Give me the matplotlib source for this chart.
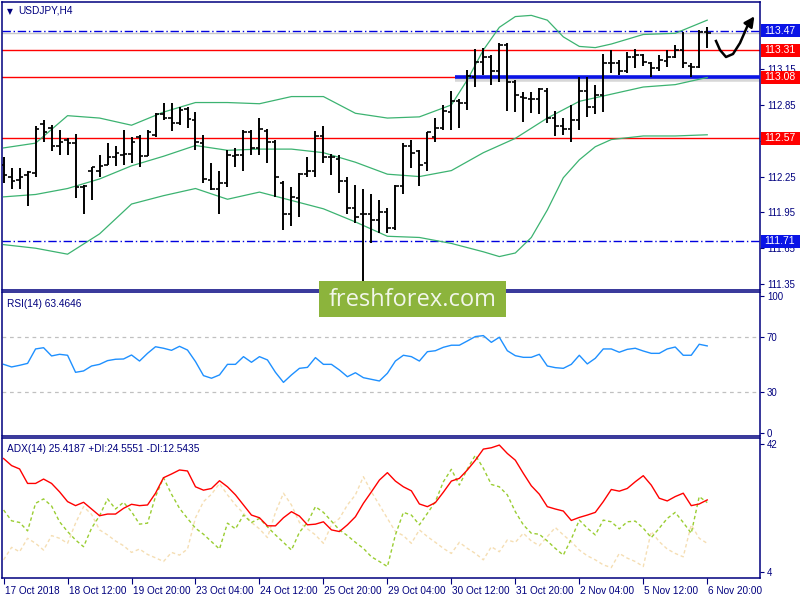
import matplotlib
matplotlib.use("Agg")
import matplotlib.pyplot as plt
import matplotlib.transforms as mtransforms
from matplotlib.patches import Rectangle, FancyArrowPatch
from matplotlib.lines import Line2D
import numpy as np

# ---------------- data ----------------
opens = [112.35,112.25,112.22,112.26,112.28,112.69,112.66,112.51,112.56,112.53,
         112.16,112.30,112.30,112.35,112.41,112.43,112.44,112.58,112.42,112.60,
         112.77,112.74,112.70,112.82,112.72,112.53,112.22,112.15,112.20,112.42,
         112.43,112.62,112.49,112.63,112.54,112.20,111.94,112.07,112.27,112.30,
         112.59,112.41,112.40,112.21,111.99,111.94,111.94,111.89,111.95,111.82,
         112.17,112.51,112.46,112.36,112.58,112.66,112.79,112.88,112.87,113.08,
         113.21,113.25,113.13,113.35,113.04,112.92,112.90,112.90,112.97,112.74,
         112.67,112.65,112.72,112.97,112.83,112.93,113.20,113.20,113.13,113.25,
         113.27,113.20,113.16,113.22,113.25,113.31,113.18,113.17,113.46]
highs = [112.41,112.32,112.32,112.30,112.67,112.72,112.68,112.64,112.57,112.61,
         112.18,112.33,112.43,112.53,112.51,112.64,112.58,112.60,112.64,112.78,
         112.87,112.87,112.83,112.83,112.79,112.60,112.36,112.30,112.47,112.49,
         112.64,112.64,112.74,112.65,112.56,112.21,112.16,112.28,112.41,112.63,
         112.67,112.44,112.43,112.25,112.18,112.15,112.10,112.05,111.99,112.18,
         112.53,112.56,112.47,112.62,112.74,112.85,112.97,112.90,113.14,113.32,
         113.33,113.27,113.37,113.37,113.06,112.96,112.96,112.99,112.99,112.80,
         112.74,112.85,113.08,113.08,113.02,113.28,113.31,113.23,113.29,113.32,
         113.28,113.21,113.27,113.31,113.35,113.46,113.20,113.48,113.50]
lows = [112.20,112.15,112.15,112.00,112.25,112.54,112.46,112.43,112.43,112.07,
        111.94,112.05,112.25,112.35,112.34,112.35,112.36,112.33,112.42,112.58,
        112.72,112.63,112.68,112.66,112.47,112.20,112.14,111.94,112.16,112.33,
        112.30,112.43,112.43,112.36,112.08,111.80,111.84,111.91,112.25,112.25,
        112.36,112.26,112.11,111.94,111.86,111.37,111.69,111.78,111.78,111.80,
        112.10,112.32,112.17,112.30,112.54,112.64,112.64,112.66,112.81,113.00,
        113.10,113.02,113.04,112.80,112.79,112.71,112.78,112.77,112.70,112.59,
        112.60,112.54,112.64,112.75,112.77,112.79,113.12,113.10,113.12,113.16,
        113.18,113.08,113.13,113.17,113.24,113.16,113.08,113.16,113.33]
closes = [112.26,112.21,112.25,112.29,112.65,112.62,112.51,112.54,112.53,112.16,
          112.17,112.33,112.34,112.41,112.45,112.44,112.54,112.42,112.62,112.77,
          112.74,112.70,112.81,112.73,112.54,112.23,112.15,112.20,112.43,112.43,
          112.62,112.49,112.65,112.54,112.25,111.94,112.08,112.27,112.30,112.59,
          112.41,112.41,112.21,111.99,111.91,111.94,111.89,111.95,111.82,112.17,
          112.51,112.45,112.35,112.62,112.66,112.80,112.88,112.87,113.09,113.21,
          113.25,113.13,113.35,113.04,112.93,112.91,112.90,112.98,112.74,112.67,
          112.65,112.72,112.97,112.83,112.93,113.20,113.20,113.13,113.25,113.27,
          113.21,113.16,113.23,113.25,113.31,113.20,113.17,113.46,113.45]

bb_upper_idx = [0,4,8,12,16,20,24,28,32,36,40,44,48,52,56,58,60,62,64,66,68,70,72,74,76,80,84,88]
bb_upper = [112.49,112.53,112.76,112.74,112.68,112.79,112.87,112.87,112.86,112.92,112.92,112.78,
            112.74,112.75,112.85,113.06,113.31,113.50,113.59,113.60,113.56,113.42,113.34,113.33,
            113.36,113.44,113.45,113.56]
bb_mid_idx = [0,4,8,12,16,20,24,28,32,36,40,44,48,52,56,60,64,68,72,76,80,84,88]
bb_mid = [112.08,112.10,112.15,112.23,112.34,112.42,112.51,112.47,112.48,112.48,112.45,112.37,
          112.27,112.25,112.30,112.45,112.57,112.74,112.88,112.94,113.00,113.02,113.08]
bb_lower_idx = [0,4,8,12,16,20,24,28,32,36,40,44,48,52,56,60,62,64,66,68,70,72,74,76,80,84,88]
bb_lower = [111.68,111.65,111.60,111.77,112.02,112.09,112.15,112.06,112.12,112.05,111.98,111.87,
            111.75,111.74,111.69,111.62,111.58,111.61,111.74,111.97,112.24,112.39,112.50,112.56,
            112.59,112.59,112.60]

rsi = [50.1,48.2,49.4,50.8,61.3,62.2,56.2,57.4,56.7,44.3,
       45.3,48.9,50.1,52.8,53.8,54.0,56.9,52.5,58.1,62.9,
       61.8,60.3,63.2,60.5,52.1,41.9,40.0,42.4,50.1,50.1,
       55.7,51.6,55.7,53.3,44.3,37.0,42.4,47.2,47.9,55.0,
       50.1,50.1,46.0,41.1,44.0,40.4,39.2,38.0,43.6,52.5,
       56.7,55.7,52.5,59.3,60.0,62.5,64.0,64.0,67.1,70.3,
       71.0,66.1,69.8,60.0,56.4,55.2,55.2,57.4,48.9,47.7,
       47.2,50.1,56.7,50.4,54.5,61.3,61.3,58.9,61.0,61.8,
       59.8,58.1,58.1,61.3,62.7,56.7,56.7,64.7,63.5]

adx = [37.7,35.6,34.6,30.3,30.3,31.6,30.3,27.8,24.9,23.7,
       24.7,22.7,20.7,21.2,21.2,22.9,24.1,23.7,23.9,27.4,
       32.0,33.1,34.3,34.0,29.3,28.3,28.8,31.1,29.3,26.9,
       23.9,20.9,20.1,17.7,17.7,20.1,21.9,20.6,18.0,18.2,
       18.9,16.5,16.0,18.0,20.4,24.4,27.8,31.3,33.5,31.0,
       29.3,28.1,24.2,23.4,24.6,27.7,31.0,31.8,34.3,37.2,
       40.5,40.9,41.7,39.2,37.2,33.3,29.6,27.1,23.4,22.7,
       22.1,19.3,20.2,20.9,21.7,24.9,28.5,28.0,28.8,30.8,
       32.6,29.8,25.9,25.1,26.4,27.4,23.7,24.2,25.4]
plus_di = [22.4,19.2,18.7,16.2,24.4,25.7,23.6,18.9,16.0,13.5,
           11.5,17.0,20.7,25.7,22.7,24.7,21.9,18.2,18.5,26.4,
           32.0,27.1,22.9,19.9,17.0,15.2,13.0,10.8,18.5,16.8,
           20.9,18.7,19.9,17.4,15.0,12.8,10.5,15.8,18.7,23.4,
           21.7,19.1,16.5,14.8,12.8,11.0,8.5,7.1,5.6,15.0,
           21.7,20.9,18.0,21.4,24.9,30.8,34.5,29.8,34.6,38.7,
           34.8,30.0,29.3,26.9,21.9,18.0,15.5,15.2,13.2,11.0,
           9.0,13.8,19.4,17.0,15.0,19.4,18.9,16.8,18.9,19.1,
           17.0,14.2,17.0,19.9,21.7,18.7,15.5,26.4,24.6]
minus_di = [7.6,11.3,10.0,14.0,12.5,10.5,14.8,14.0,12.5,18.5,
            23.4,21.1,16.5,15.0,13.2,11.8,9.8,10.8,9.2,8.2,
            7.1,9.8,9.0,10.8,20.1,24.9,27.1,30.3,26.9,23.9,
            21.4,18.7,16.8,14.2,21.7,27.4,23.9,18.7,16.8,15.0,
            12.5,18.0,19.9,23.9,26.9,32.3,27.8,23.9,19.9,16.0,
            14.8,12.5,16.5,14.5,12.8,11.0,9.5,12.8,11.0,9.5,
            7.6,11.5,10.0,13.5,12.8,15.5,13.2,11.8,14.5,17.2,
            15.0,13.0,10.5,8.8,7.6,6.1,5.3,9.5,8.1,7.1,
            5.6,16.0,13.0,10.8,9.5,8.5,18.0,14.0,12.5]

tick_labels = ["17 Oct 2018", "18 Oct 12:00", "19 Oct 20:00", "23 Oct 04:00",
               "24 Oct 12:00", "25 Oct 20:00", "29 Oct 04:00", "30 Oct 12:00",
               "31 Oct 20:00", "2 Nov 04:00", "5 Nov 12:00", "6 Nov 20:00"]
tick_idx = [0, 8, 16, 24, 32, 40, 48, 56, 64, 72, 80, 88]

red_levels = [113.31, 113.08, 112.57]
blue_levels = [113.47, 111.71]
bid_price = 113.45
support_level = 113.08
support_start = 56.5

price_ticks = [111.35, 111.65, 111.95, 112.25, 112.55, 112.85, 113.15]

# ---------------- styling ----------------
NAVY = "#00007f"
BLUE = "#0000e0"
BOXBLUE = "#0a14e6"
RED = "#ff0000"
GREEN = "#3cb371"
FONT = ["Liberation Sans", "DejaVu Sans"]
FS = 6.9
plt.rcParams["font.family"] = FONT

fig = plt.figure(figsize=(8, 6), dpi=100)
fig.patch.set_facecolor("white")

L, W = 2/800, 758/800
ax = fig.add_axes([L, 1-290/600, W, 288/600])
ax_rsi = fig.add_axes([L, 1-436/600, W, 144/600])
ax_adx = fig.add_axes([L, 1-578/600, W, 140/600])

n = len(closes)
x = np.arange(n)
xlim = (-0.2, 94.6)

for a in (ax, ax_rsi, ax_adx):
    a.set_xlim(*xlim)
    for s in a.spines.values():
        s.set_color(NAVY)
        s.set_linewidth(1.1)
    a.yaxis.tick_right()
    a.tick_params(axis="y", colors=NAVY, labelcolor=NAVY, labelsize=FS,
                  direction="out", length=3, width=0.8, pad=2)
    a.set_facecolor("white")

ax.tick_params(axis="x", bottom=False, labelbottom=False)
ax_rsi.tick_params(axis="x", bottom=False, labelbottom=False)

# ---------- main price panel ----------
ax.set_ylim(111.30, 113.712)
ax.set_yticks(price_ticks)
ax.set_yticklabels([f"{p:.2f}" for p in price_ticks])

ax.axhline(bid_price, color="#c8c8c8", lw=1.0, zorder=1)
for lv in red_levels:
    ax.axhline(lv, color=RED, lw=1.0, zorder=2)
for lv in blue_levels:
    ax.axhline(lv, color=BLUE, lw=1.0, ls=(0, (6, 2, 1, 2)), zorder=2)

# thick support line with soft shadow
ax.plot([support_start, xlim[1]], [support_level - 0.012, support_level - 0.012],
        color="#b0b0b0", lw=4, alpha=0.5, zorder=2, solid_capstyle="butt")
ax.plot([support_start, xlim[1]], [support_level, support_level],
        color=BOXBLUE, lw=2.6, zorder=3, solid_capstyle="butt")

ax.plot(bb_upper_idx, bb_upper, color=GREEN, lw=0.9, zorder=3)
ax.plot(bb_mid_idx, bb_mid, color=GREEN, lw=0.9, zorder=3)
ax.plot(bb_lower_idx, bb_lower, color=GREEN, lw=0.9, zorder=3)

ax.vlines(x, lows, highs, color="black", lw=1.4, zorder=4)
ax.hlines(opens, x - 0.42, x, color="black", lw=1.2, zorder=4)
ax.hlines(closes, x, x + 0.42, color="black", lw=1.2, zorder=4)

ax.text(0.006, 0.982, "\u25BC", transform=ax.transAxes, fontsize=5.5, color=NAVY,
        va="top", ha="left", family=["DejaVu Sans"])
ax.text(0.021, 0.988, "USDJPY,H4", transform=ax.transAxes, fontsize=FS + 0.4, color=NAVY,
        va="top", ha="left")

# price boxes on the right scale
for lv, col in [(113.47, BOXBLUE), (113.31, RED), (113.08, RED), (112.57, RED), (111.71, BOXBLUE)]:
    ypx = ax.transData.transform((0, lv))[1]
    fig.patches.append(Rectangle((761/800, (ypx - 6.5)/600), 39/800, 13/600,
                                 transform=fig.transFigure, fc=col, ec="none", zorder=10))
    fig.text(764/800, ypx/600, f"{lv:.2f}", fontsize=FS + 0.6, color="white",
             ha="left", va="center", zorder=11)

# ---------- RSI panel ----------
ax_rsi.set_ylim(-2.0, 102.7)
ax_rsi.set_yticks([0, 30, 70, 100])
ax_rsi.set_yticklabels(["0", "30", "70", "100"])
for lv in (70, 30):
    ax_rsi.axhline(lv, color="#c0c0c0", lw=0.9, ls=(0, (3, 3)))
ax_rsi.plot(x, rsi, color="#1e90ff", lw=1.0)
ax_rsi.text(0.006, 0.95, "RSI(14) 63.4646", transform=ax_rsi.transAxes,
            fontsize=FS + 0.4, color=NAVY, va="top", ha="left")

# ---------- ADX panel ----------
ax_adx.set_ylim(2.2, 43.8)
ax_adx.set_yticks([4, 42])
ax_adx.set_yticklabels(["4", "42"])
ax_adx.plot(x, minus_di, color="#f5deb3", lw=1.0, ls=(0, (2.5, 2)))
ax_adx.plot(x, plus_di, color="#9acd32", lw=1.0, ls=(0, (2.5, 2)))
ax_adx.plot(x, adx, color="#ff0000", lw=1.0)
ax_adx.text(0.006, 0.96, "ADX(14) 25.4187 +DI:24.5551 -DI:12.5435",
            transform=ax_adx.transAxes, fontsize=FS + 0.4, color=NAVY, va="top", ha="left")
ax_adx.set_xticks(tick_idx)
ax_adx.set_xticklabels(tick_labels, ha="left")
ax_adx.tick_params(axis="x", colors=NAVY, labelcolor=NAVY, labelsize=FS + 0.3,
                   direction="out", length=4, width=0.8, pad=2)
for lbl in ax_adx.get_xticklabels():
    lbl.set_transform(lbl.get_transform() + mtransforms.ScaledTranslation(1/100, 0, fig.dpi_scale_trans))

# ---------- logo ----------
fig.patches.append(Rectangle((319/800, 1-317/600), 187/800, 36/600,
                             transform=fig.transFigure, fc="#8cb43c", ec="none", zorder=20))
fig.text(412.5/800, 1-300/600, "freshforex.com", fontsize=17, color="#f2f6ea",
         family=["Open Sans", "DejaVu Sans"], ha="center", va="center", zorder=21)

# ---------- hand-drawn arrow ----------
path_x = [716, 720, 726, 733, 740, 747]
path_y = [41, 50, 57, 54, 43, 27]
fig.lines.append(Line2D([px/800 for px in path_x], [1-py/600 for py in path_y],
                        transform=fig.transFigure, color="black", lw=1.8, zorder=22))
fig.add_artist(FancyArrowPatch(
    (747/800, 1-27/600), (756/800, 1-14/600), transform=fig.transFigure,
    arrowstyle="-|>", mutation_scale=15, color="black", lw=1.8, zorder=22))

fig.savefig("out.png", dpi=100)
